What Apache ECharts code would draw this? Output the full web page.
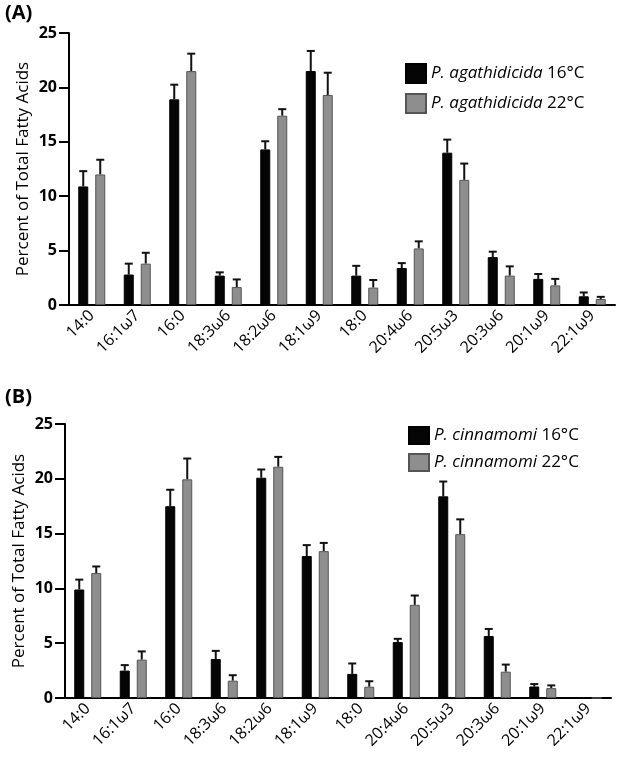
<!DOCTYPE html>
<html>
<head>
<meta charset="utf-8">
<script src="https://cdn.jsdelivr.net/npm/echarts@6/dist/echarts.min.js"></script>
<style>
html,body{margin:0;padding:0;background:#fff;}
#chart{width:618px;height:767px;}
</style>
</head>
<body>
<div id="chart"></div>
<script>
// ---- data ----
var categories = ['14:0','16:1ω7','16:0','18:3ω6','18:2ω6','18:1ω9','18:0','20:4ω6','20:5ω3','20:3ω6','20:1ω9','22:1ω9'];
var yTicks = [0, 5, 10, 15, 20, 25];

var agath16 = [10.9, 2.8, 18.9, 2.7, 14.3, 21.5, 2.7, 3.4, 14.0, 4.4, 2.4, 0.8];
var agath16Err = [1.4, 1.0, 1.35, 0.3, 0.75, 1.85, 0.9, 0.45, 1.2, 0.5, 0.45, 0.35];
var agath22 = [12.0, 3.8, 21.5, 1.65, 17.4, 19.3, 1.6, 5.2, 11.5, 2.7, 1.8, 0.55];
var agath22Err = [1.35, 1.0, 1.6, 0.7, 0.6, 2.05, 0.7, 0.65, 1.5, 0.85, 0.6, 0.2];

var cinn16 = [9.9, 2.5, 17.5, 3.55, 20.1, 12.95, 2.2, 5.1, 18.4, 5.65, 1.05, 0];
var cinn16Err = [0.9, 0.5, 1.5, 0.75, 0.75, 1.0, 0.95, 0.3, 1.35, 0.65, 0.22, 0];
var cinn22 = [11.4, 3.5, 19.95, 1.58, 21.1, 13.4, 1.03, 8.5, 14.95, 2.4, 0.9, 0];
var cinn22Err = [0.6, 0.75, 1.9, 0.5, 0.9, 0.75, 0.5, 0.85, 1.35, 0.65, 0.25, 0];

var seriesNames = ['P. agathidicida 16°C', 'P. agathidicida 22°C', 'P. cinnamomi 16°C', 'P. cinnamomi 22°C'];

// ---- style ----
var FONT = 'Open Sans';
var BAR_W = 10, BAR_GAP = 7;
var BLACK = '#050505', GRAY = '#8e8e8e';

function errSeries(name, means, errs, axisIdx, side) {
  var data = means.map(function (m, i) { return [i, m, m + errs[i]]; });
  return {
    type: 'custom', name: name + ' err', xAxisIndex: axisIdx, yAxisIndex: axisIdx,
    silent: true, z: 1,
    renderItem: function (params, api) {
      var i = api.value(0), lo = api.value(1), hi = api.value(2);
      if (hi - lo <= 0) return null;
      var p0 = api.coord([i, lo]);
      var p1 = api.coord([i, hi]);
      var off = side * (BAR_W + BAR_GAP) / 2;
      var x = p0[0] + off;
      return {
        type: 'group',
        children: [
          { type: 'line', shape: { x1: x, y1: p0[1], x2: x, y2: p1[1] }, style: { stroke: '#111', lineWidth: 2 } },
          { type: 'line', shape: { x1: x - 4, y1: p1[1], x2: x + 4, y2: p1[1] }, style: { stroke: '#111', lineWidth: 2 } }
        ]
      };
    },
    data: data
  };
}

function barSeries(name, vals, axisIdx, color, border) {
  return {
    type: 'bar', name: name, xAxisIndex: axisIdx, yAxisIndex: axisIdx,
    data: vals, barWidth: BAR_W, barGap: '70%', z: 2,
    itemStyle: { color: color, borderColor: border, borderWidth: 1 }
  };
}

function xAxis(gridIdx) {
  return {
    type: 'category', gridIndex: gridIdx, data: categories,
    axisLine: { lineStyle: { color: '#000', width: 2 } },
    axisTick: { alignWithLabel: true, length: 7, lineStyle: { color: '#000', width: 2 } },
    axisLabel: { rotate: 45, color: '#000', fontFamily: FONT, fontSize: 16, margin: 8, interval: 0 }
  };
}
function yAxis(gridIdx) {
  return {
    type: 'value', gridIndex: gridIdx, min: yTicks[0], max: yTicks[yTicks.length - 1], interval: 5,
    name: 'Percent of Total Fatty Acids', nameLocation: 'middle', nameGap: 37, nameMoveOverlap: false,
    nameTextStyle: { color: '#000', fontFamily: FONT, fontSize: 17 },
    splitLine: { show: false },
    axisLine: { show: true, lineStyle: { color: '#000', width: 2 } },
    axisTick: { show: true, length: 10, lineStyle: { color: '#000', width: 2 } },
    axisLabel: { color: '#000', fontFamily: FONT, fontSize: 16, fontWeight: 'bold', margin: 12 }
  };
}

var legendText = {
  fontFamily: FONT, fontSize: 17, color: '#000',
  rich: { i: { fontStyle: 'italic', fontFamily: FONT, fontSize: 17, color: '#000' },
          n: { fontFamily: FONT, fontSize: 17, color: '#000' } }
};
function legendFmt(name) {
  var k = name.lastIndexOf(' ');
  return '{i|' + name.slice(0, k) + '}{n|' + name.slice(k) + '}';
}

var chart = echarts.init(document.getElementById('chart'), null, { renderer: 'canvas' });
chart.setOption({
  backgroundColor: '#fff',
  animation: false,
  title: [
    { text: '(A)', left: 0, top: -2, textStyle: { fontFamily: FONT, fontSize: 20, fontWeight: 'bold', color: '#000' } },
    { text: '(B)', left: 0, top: 382, textStyle: { fontFamily: FONT, fontSize: 20, fontWeight: 'bold', color: '#000' } }
  ],
  legend: [
    { data: [seriesNames[0], seriesNames[1]], orient: 'vertical', left: 400, top: 58, icon: 'rect',
      itemWidth: 20, itemHeight: 19, itemGap: 9, formatter: legendFmt, textStyle: legendText },
    { data: [seriesNames[2], seriesNames[3]], orient: 'vertical', left: 403, top: 421, icon: 'rect',
      itemWidth: 20, itemHeight: 17, itemGap: 8, formatter: legendFmt, textStyle: legendText }
  ],
  grid: [
    { left: 69, width: 546, top: 33, height: 272 },
    { left: 65, width: 546, top: 424, height: 274 }
  ],
  xAxis: [xAxis(0), xAxis(1)],
  yAxis: [yAxis(0), yAxis(1)],
  series: [
    barSeries(seriesNames[0], agath16, 0, BLACK, '#000'),
    barSeries(seriesNames[1], agath22, 0, GRAY, '#555'),
    barSeries(seriesNames[2], cinn16, 1, BLACK, '#000'),
    barSeries(seriesNames[3], cinn22, 1, GRAY, '#555'),
    errSeries(seriesNames[0], agath16, agath16Err, 0, -1),
    errSeries(seriesNames[1], agath22, agath22Err, 0, 1),
    errSeries(seriesNames[2], cinn16, cinn16Err, 1, -1),
    errSeries(seriesNames[3], cinn22, cinn22Err, 1, 1)
  ]
});
</script>
</body>
</html>
